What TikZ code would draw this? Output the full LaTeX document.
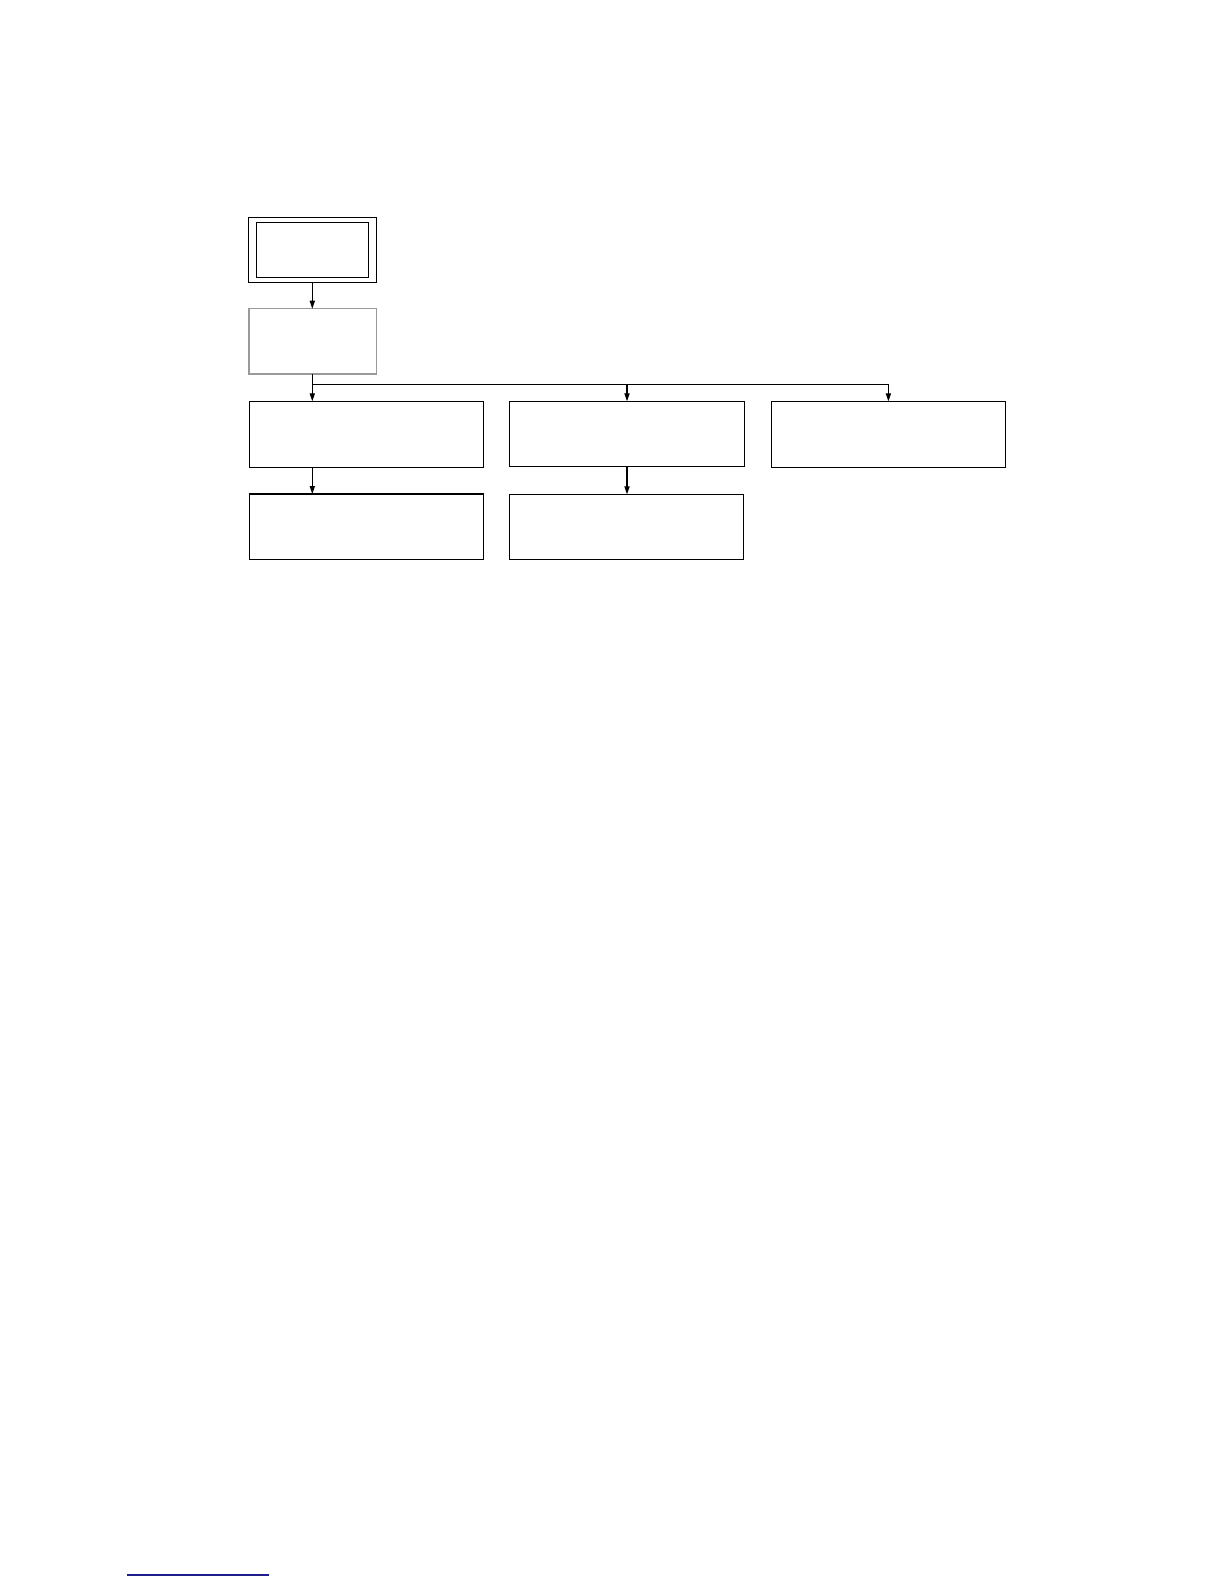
\documentclass[tikz,border=0pt]{standalone}
\usetikzlibrary{arrows.meta}
\begin{document}
\begin{tikzpicture}[x=0.5pt,y=-0.5pt,
  box/.style={draw=black,line width=0.55pt,inner sep=0pt,outer sep=0pt,anchor=north west},
  graybox/.style={draw=black!40,line width=0.55pt,inner sep=0pt,outer sep=0pt,anchor=north west},
  conn/.style={line width=0.55pt,-{Triangle[length=4pt,width=2.6pt]}},
  wire/.style={line width=0.55pt}]
\useasboundingbox[fill=white] (0,0) rectangle (1224,1584);
% top double box
\node[box,minimum width=128.4pt*0.5,minimum height=65pt*0.5] (topo) at (248.3,217.3) {};
\node[box,minimum width=112pt*0.5,minimum height=55pt*0.5] (topi) at (256.3,222.3) {};
% gray box
\node[graybox,minimum width=127.3pt*0.5,minimum height=65.3pt*0.5] (g) at (249,308.7) {};
% row 1
\node[box,minimum width=234.2pt*0.5,minimum height=66pt*0.5] (l1) at (249.3,401.3) {};
\node[box,minimum width=235.4pt*0.5,minimum height=65pt*0.5] (m1) at (509.3,401.3) {};
\node[box,minimum width=234.4pt*0.5,minimum height=66pt*0.5] (r1) at (771.3,401.3) {};
% row 2
\node[box,minimum width=234.2pt*0.5,minimum height=65.3pt*0.5] (l2) at (249.3,494) {};
\node[box,minimum width=234.4pt*0.5,minimum height=65pt*0.5] (m2) at (509.3,494.3) {};
% connector points
\coordinate (j) at (312.3,384.3);
\coordinate (jm) at (627,384.3);
\coordinate (jr) at (888.4,384.3);
\draw[conn] (topo.south -| j) -- (g.north -| j);
\draw[wire] (g.south -| j) -- (j) -- (jr);
\draw[conn] (j) -- (l1.north -| j);
\draw[conn] (jm) -- (m1.north -| jm);
\draw[conn] (jr) -- (r1.north -| jr);
\draw[conn] (l1.south -| j) -- (l2.north -| j);
\draw[conn] (m1.south -| jm) -- (m2.north -| jm);
% footnote rule
\coordinate (fa) at (127,1575);
\coordinate (fb) at (269,1575);
\draw[line width=0.6pt,color={rgb,255:red,30;green,30;blue,140}] (fa) -- (fb);
\end{tikzpicture}
\end{document}
